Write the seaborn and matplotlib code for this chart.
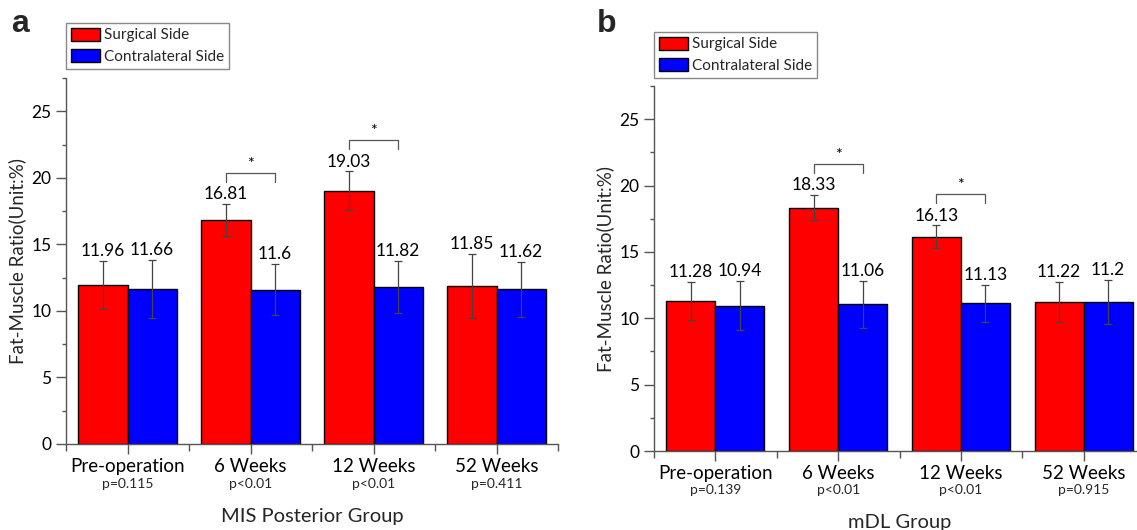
import numpy as np
import pandas as pd
import matplotlib
matplotlib.use("Agg")
import matplotlib.pyplot as plt
from matplotlib.ticker import MultipleLocator, FixedLocator
import seaborn as sns

categories = ["Pre-operation", "6 Weeks", "12 Weeks", "52 Weeks"]
sides = ["Surgical Side", "Contralateral Side"]

a_p = ["p=0.115", "p<0.01", "p<0.01", "p=0.411"]
a_surg = [11.96, 16.81, 19.03, 11.85]
a_surg_err = [1.80, 1.20, 1.45, 2.40]
a_contra = [11.66, 11.60, 11.82, 11.62]
a_contra_err = [2.20, 1.90, 1.95, 2.05]
a_sig = ["6 Weeks", "12 Weeks"]

b_p = ["p=0.139", "p<0.01", "p<0.01", "p=0.915"]
b_surg = [11.28, 18.33, 16.13, 11.22]
b_surg_err = [1.43, 0.95, 0.87, 1.52]
b_contra = [10.94, 11.06, 11.13, 11.20]
b_contra_err = [1.85, 1.76, 1.40, 1.66]
b_sig = ["6 Weeks", "12 Weeks"]

sns.set_theme(style="ticks")
plt.rcParams["font.family"] = ["Lato", "DejaVu Sans"]

W, H = 1137, 530
fig = plt.figure(figsize=(W / 100, H / 100), dpi=100)

colors = {"Surgical Side": "#ff0000", "Contralateral Side": "#0000ff"}


def panel(rect, surg, surg_err, contra, contra_err, pvals, sig, xlabel,
          letter, letter_xy, legend_xy, p_pad, xlab_pad):
    ax = fig.add_axes(rect)
    df = pd.DataFrame({
        "cat": categories * 2,
        "side": [sides[0]] * 4 + [sides[1]] * 4,
        "val": list(surg) + list(contra),
    })
    sns.barplot(data=df, x="cat", y="val", hue="side", order=categories,
                hue_order=sides, palette=colors, errorbar=None, width=0.8,
                edgecolor="black", linewidth=1.0, saturation=1, ax=ax)
    bars = [p for p in ax.patches if p.get_height() > 0]
    errs = list(surg_err) + list(contra_err)
    vals = list(surg) + list(contra)
    centers = []
    for bar, e, v in zip(bars, errs, vals):
        cx = bar.get_x() + bar.get_width() / 2
        centers.append(cx)
        ax.errorbar(cx, v, yerr=e, fmt="none", ecolor="#444444",
                    elinewidth=0.9, capsize=3, capthick=0.9, zorder=5)
        ax.annotate(f"{v:g}", (cx, v + e), xytext=(0, 3.5),
                    textcoords="offset points", ha="center", va="baseline",
                    fontsize=12.5, color="black")
    for cat in sig:
        i = categories.index(cat)
        x1, x2 = centers[i], centers[i + 4]
        top = surg[i] + surg_err[i] + 2.35
        ax.plot([x1, x1, x2, x2], [top - 0.65, top, top, top - 0.65],
                color="#555555", lw=0.9, zorder=5)
        ax.text((x1 + x2) / 2, top + 0.15, "*", ha="center", va="bottom",
                fontsize=11.5, color="black")
    ax.set_ylim(0, 27.5)
    ax.set_xlim(-0.5, 3.5)
    ax.yaxis.set_major_locator(MultipleLocator(5))
    ax.yaxis.set_minor_locator(MultipleLocator(2.5))
    ax.xaxis.set_minor_locator(FixedLocator([-0.5, 0.5, 1.5, 2.5, 3.5]))
    ax.tick_params(axis="both", which="major", length=7, width=1,
                   color="#555555", labelcolor="black", pad=3.5)
    ax.tick_params(axis="y", which="major", labelsize=12.5)
    ax.tick_params(axis="x", which="major", labelsize=13.5, pad=3)
    ax.tick_params(axis="y", which="minor", length=3, width=1, color="#555555")
    ax.tick_params(axis="x", which="minor", length=5, width=1, color="#555555")
    ax.set_xticks(range(4))
    ax.set_xticklabels(categories)
    for i, p in enumerate(pvals):
        ax.annotate(p, (i, 0), xycoords=("data", "axes fraction"),
                    xytext=(0, -p_pad), textcoords="offset points",
                    ha="center", va="center", fontsize=10)
    ax.set_xlabel(xlabel, fontsize=14.5, labelpad=xlab_pad)
    ax.set_ylabel("Fat-Muscle Ratio(Unit:%)", fontsize=13.5, labelpad=4)
    for s in ["top", "right"]:
        ax.spines[s].set_visible(False)
    for s in ["left", "bottom"]:
        ax.spines[s].set_color("#555555")
        ax.spines[s].set_linewidth(1.0)
    ax.legend_.remove()
    handles = [plt.Rectangle((0, 0), 1, 1, facecolor=colors[s],
                             edgecolor="black", lw=1) for s in sides]
    fig.legend(handles, sides, loc="upper left",
               bbox_to_anchor=(legend_xy[0] / W, 1 - legend_xy[1] / H),
               bbox_transform=fig.transFigure, fontsize=11, frameon=True,
               fancybox=False, edgecolor="#888888", framealpha=1,
               borderaxespad=0, handlelength=1.9, handleheight=0.95,
               handletextpad=0.3, labelspacing=0.45, borderpad=0.3)
    fig.text(letter_xy[0] / W, 1 - letter_xy[1] / H, letter, fontsize=23,
             fontweight="bold", ha="left", va="baseline",
             family=["Liberation Sans", "DejaVu Sans"])
    return ax


panel([66 / W, 1 - 444 / H, 492 / W, 366 / H], a_surg, a_surg_err, a_contra,
      a_contra_err, a_p, a_sig, "MIS Posterior Group", "a", (11, 32),
      (66, 23), 29, 24)
panel([654 / W, 1 - 451 / H, 491 / W, 365 / H], b_surg, b_surg_err, b_contra,
      b_contra_err, b_p, b_sig, "mDL Group", "b", (597, 32),
      (654, 32), 28, 23)

fig.savefig("out.png", dpi=100)
